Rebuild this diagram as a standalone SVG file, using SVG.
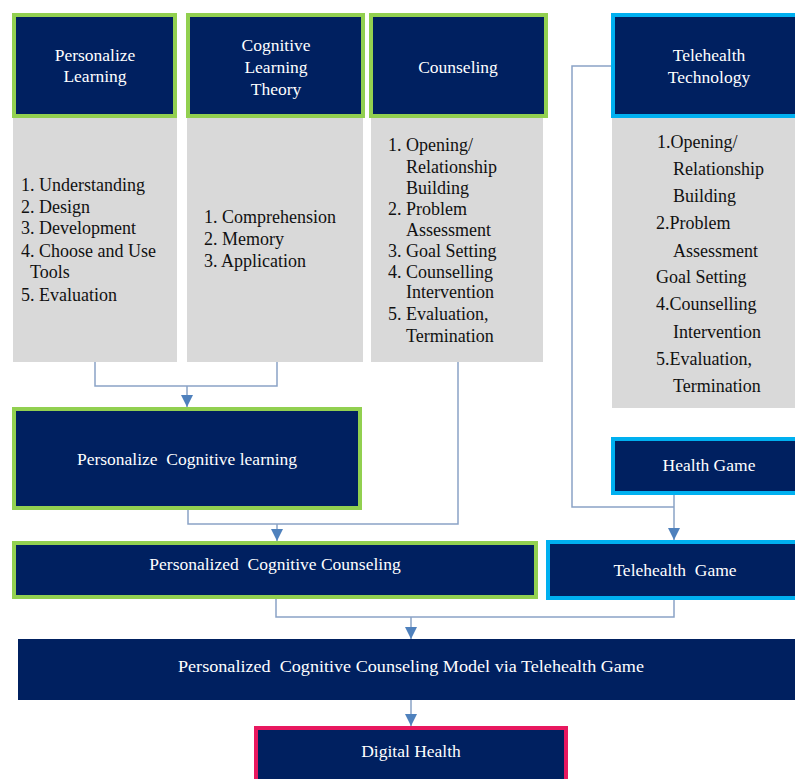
<svg xmlns="http://www.w3.org/2000/svg" width="795" height="779" viewBox="0 0 795 779">
<defs>
<style>
.nv{fill:#002060}
.g{stroke:#92d050;stroke-width:4}
.b{stroke:#00b0f0;stroke-width:4}
.p{stroke:#e8185f;stroke-width:4}
.gr{fill:#d9d9d9}
text{font-family:'Liberation Serif','Times New Roman',serif;white-space:pre}
.wt{fill:#ffffff;font-size:17.5px;text-anchor:middle}
.bt{fill:#111111;font-size:18px}
.ln{fill:none;stroke:#8aa3c6;stroke-width:1.5}
</style>
<marker id="ah" viewBox="0 0 10 10" refX="10" refY="5" markerWidth="13" markerHeight="12" markerUnits="userSpaceOnUse" orient="auto">
<path d="M0 0L10 5L0 10z" fill="#4f81bd"/>
</marker>
</defs>
<rect width="795" height="779" fill="#ffffff"/>

<g id="connectors">
<path class="ln" d="M95 362V386H277V362"/>
<path class="ln" d="M187 386V407" marker-end="url(#ah)"/>
<path class="ln" d="M188 510V524H458V362"/>
<path class="ln" d="M277 524V541" marker-end="url(#ah)"/>
<path class="ln" d="M611 66H572V507H674"/>
<path class="ln" d="M674 495V540" marker-end="url(#ah)"/>
<path class="ln" d="M276 599V617H674V600"/>
<path class="ln" d="M411 617V639" marker-end="url(#ah)"/>
<path class="ln" d="M411 700V726" marker-end="url(#ah)"/>
</g>

<g id="personalize-learning">
<rect class="nv g" x="14" y="15" width="161" height="101"/>
<text class="wt" x="95" y="61">Personalize</text>
<text class="wt" x="95" y="82">Learning</text>
</g>
<g id="personalize-learning-list">
<rect class="gr" x="13" y="118" width="164" height="244"/>
<text class="bt" x="21" y="191">1. Understanding</text>
<text class="bt" x="21" y="213">2. Design</text>
<text class="bt" x="21" y="234">3. Development</text>
<text class="bt" x="21" y="257">4. Choose and Use</text>
<text class="bt" x="30" y="278">Tools</text>
<text class="bt" x="21" y="301">5. Evaluation</text>
</g>

<g id="cognitive-learning-theory">
<rect class="nv g" x="188" y="15" width="175" height="101"/>
<text class="wt" x="276" y="51">Cognitive</text>
<text class="wt" x="276" y="73">Learning</text>
<text class="wt" x="276" y="95">Theory</text>
</g>
<g id="cognitive-list">
<rect class="gr" x="187" y="118" width="176" height="244"/>
<text class="bt" x="204" y="223">1. Comprehension</text>
<text class="bt" x="204" y="245">2. Memory</text>
<text class="bt" x="204" y="267">3. Application</text>
</g>

<g id="counseling">
<rect class="nv g" x="371" y="15" width="175" height="101"/>
<text class="wt" x="458" y="73">Counseling</text>
</g>
<g id="counseling-list">
<rect class="gr" x="371" y="118" width="172" height="244"/>
<text class="bt" x="388" y="151">1. Opening/</text>
<text class="bt" x="406" y="173">Relationship</text>
<text class="bt" x="406" y="194">Building</text>
<text class="bt" x="388" y="215">2. Problem</text>
<text class="bt" x="406" y="236">Assessment</text>
<text class="bt" x="388" y="257">3. Goal Setting</text>
<text class="bt" x="388" y="278">4. Counselling</text>
<text class="bt" x="406" y="298">Intervention</text>
<text class="bt" x="388" y="320">5. Evaluation,</text>
<text class="bt" x="406" y="342">Termination</text>
</g>

<g id="telehealth-technology">
<rect class="nv b" x="613" y="15" width="192" height="101"/>
<text class="wt" x="709" y="61">Telehealth</text>
<text class="wt" x="709" y="83">Technology</text>
</g>
<g id="telehealth-list">
<rect class="gr" x="612" y="118" width="183" height="290"/>
<text class="bt" x="657" y="148">1.Opening/</text>
<text class="bt" x="673" y="175">Relationship</text>
<text class="bt" x="673" y="202">Building</text>
<text class="bt" x="656" y="229">2.Problem</text>
<text class="bt" x="673" y="257">Assessment</text>
<text class="bt" x="656" y="283">Goal Setting</text>
<text class="bt" x="656" y="310">4.Counselling</text>
<text class="bt" x="673" y="338">Intervention</text>
<text class="bt" x="656" y="365">5.Evaluation,</text>
<text class="bt" x="673" y="392">Termination</text>
</g>

<g id="personalize-cognitive-learning">
<rect class="nv g" x="14" y="409" width="346" height="99"/>
<text class="wt" x="187" y="465">Personalize  Cognitive learning</text>
</g>

<g id="health-game">
<rect class="nv b" x="613" y="439" width="192" height="54"/>
<text class="wt" x="709" y="471">Health Game</text>
</g>

<g id="personalized-cognitive-counseling">
<rect class="nv g" x="14" y="543" width="522" height="54"/>
<text class="wt" x="275" y="570">Personalized  Cognitive Counseling</text>
</g>

<g id="telehealth-game">
<rect class="nv b" x="548" y="542" width="257" height="56"/>
<text class="wt" x="675" y="576">Telehealth  Game</text>
</g>

<g id="model">
<rect class="nv" x="18" y="639" width="777" height="61"/>
<text class="wt" x="411" y="672" textLength="466" lengthAdjust="spacingAndGlyphs">Personalized  Cognitive Counseling Model via Telehealth Game</text>
</g>

<g id="digital-health">
<rect class="nv p" x="256" y="728" width="310" height="60"/>
<text class="wt" x="411" y="757">Digital Health</text>
</g>
</svg>
